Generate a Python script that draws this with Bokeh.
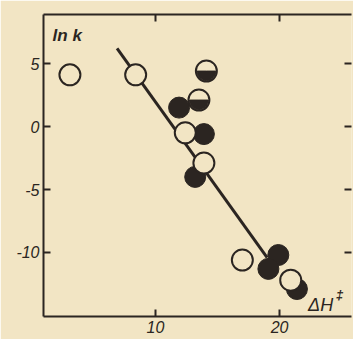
import numpy as np
from bokeh.plotting import figure
from bokeh.models import LinearAxis, FixedTicker, Range1d, Label
from bokeh.embed import file_html
from bokeh.resources import INLINE

# data
open_x = [3.1, 8.4, 12.4, 13.9, 17.0, 20.9]
open_y = [4.1, 4.1, -0.5, -2.9, -10.6, -12.2]
filled_x = [11.9, 13.9, 13.2, 19.9, 19.1, 21.4]
filled_y = [1.5, -0.6, -4.0, -10.2, -11.3, -12.9]
half_x = [14.1, 13.5]
half_y = [4.4, 2.1]
line_x = [6.9, 19.0]
line_y = [6.2, -10.4]
x_ticks = [10, 20]
y_ticks = [5, 0, -5, -10]
y_tick_labels = {5: "5", 0: "0", -5: "-5", -10: "-10"}

BG = "#f2e5c4"
INK = "#2b2521"
FONT = "Liberation Sans"

p = figure(width=353, height=339, output_backend="svg", toolbar_location=None,
           x_range=Range1d(0.97, 25.8), y_range=Range1d(-15.08, 8.89),
           x_axis_location=None, y_axis_location=None,
           min_border_left=43, min_border_top=14, min_border_right=2, min_border_bottom=23)
p.background_fill_color = BG
p.border_fill_color = BG
p.outline_line_color = None
p.xgrid.visible = False
p.ygrid.visible = False

def style(ax):
    ax.axis_line_color = INK
    ax.axis_line_width = 2
    ax.major_tick_line_color = INK
    ax.major_tick_line_width = 2
    ax.major_tick_in = 7
    ax.major_tick_out = 0
    ax.minor_tick_line_color = None
    ax.major_label_text_font = FONT
    ax.major_label_text_font_style = "italic"
    ax.major_label_text_color = INK
    ax.major_label_text_font_size = "16px"
    ax.major_label_standoff = 4

bottom = LinearAxis(ticker=FixedTicker(ticks=x_ticks))
style(bottom)
p.add_layout(bottom, "below")
top = LinearAxis(ticker=FixedTicker(ticks=x_ticks),
                 major_label_overrides={t: "" for t in x_ticks})
style(top)
top.major_label_standoff = 0
p.add_layout(top, "above")
left = LinearAxis(ticker=FixedTicker(ticks=y_ticks), major_label_overrides=y_tick_labels)
style(left)
p.add_layout(left, "left")
right = LinearAxis(ticker=FixedTicker(ticks=y_ticks),
                   major_label_overrides={t: "" for t in y_ticks})
style(right)
right.major_label_standoff = 0
right.axis_line_color = None
p.add_layout(right, "right")

# regression line
p.line(line_x, line_y, line_color=INK, line_width=3)

# filled markers
p.scatter(filled_x, filled_y, marker="circle", size=21, fill_color=INK, line_color=INK, line_width=1)
# open markers
p.scatter(open_x, open_y, marker="circle", size=21, fill_color=BG, line_color=INK, line_width=2)
# half-filled markers
p.scatter(half_x, half_y, marker="circle", size=21, fill_color=BG, line_color=INK, line_width=2)
p.wedge(x=half_x, y=half_y, radius=9.5, radius_units="screen",
        start_angle=np.pi, end_angle=2 * np.pi, fill_color=INK, line_color=INK)

p.add_layout(Label(x=1.7, y=7.2, text="ln k", text_font=FONT, text_font_style="bold italic",
                   text_font_size="17px", text_color=INK, text_baseline="alphabetic"))
p.add_layout(Label(x=22.3, y=-14.2, text="ΔH", text_font=FONT, text_font_style="italic",
                   text_font_size="18px", text_color=INK, text_baseline="alphabetic"))
p.add_layout(Label(x=24.55, y=-13.35, text="‡", text_font=FONT, text_font_style="bold italic",
                   text_font_size="13px", text_color=INK, text_baseline="alphabetic"))

open("out.html", "w").write(file_html(p, INLINE))
